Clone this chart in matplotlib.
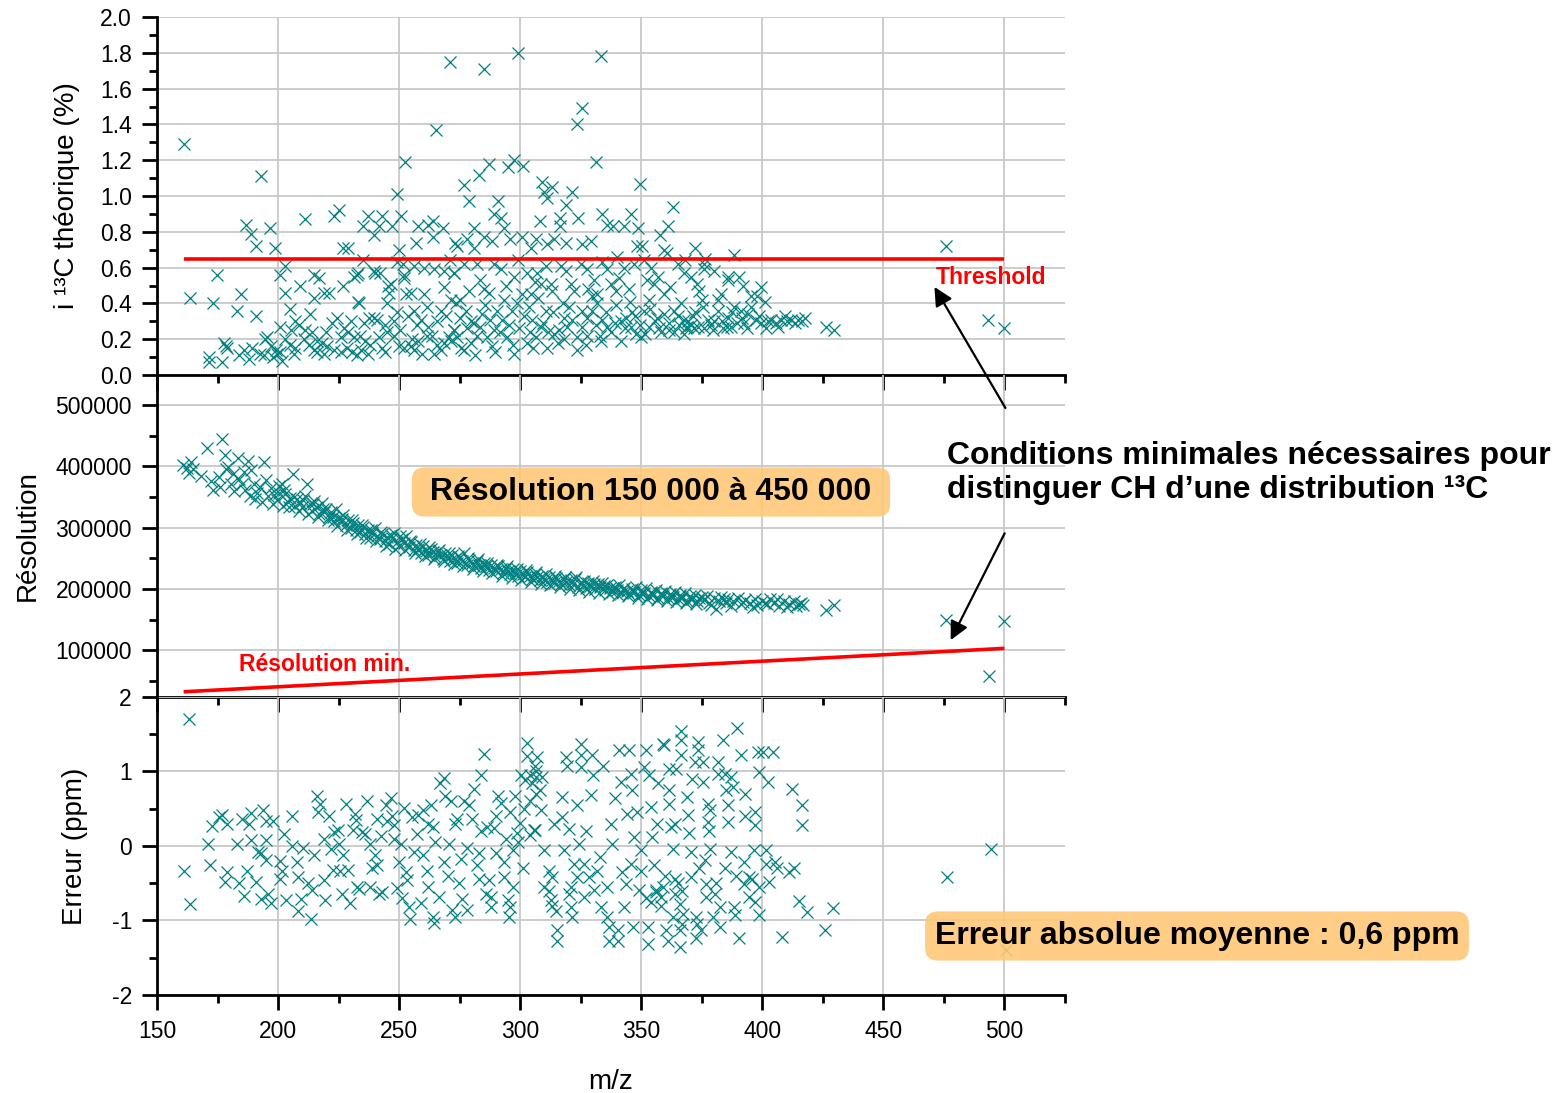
import numpy as np
import matplotlib
matplotlib.use("Agg")
import matplotlib.pyplot as plt
from matplotlib.ticker import MultipleLocator, FormatStrFormatter
from matplotlib.patches import ConnectionPatch

plt.rcParams["font.family"] = ["Liberation Sans", "DejaVu Sans"]
plt.rcParams["axes.unicode_minus"] = False

# ==========================================
# DATA
# ==========================================

# top panel : m/z, i13C theorique (%)
iso_pts = np.array([
    [161, 1.29], [193, 1.11], [163.7, 0.43], [174.8, 0.56], [173, 0.40], [183, 0.36],
    [184.8, 0.45], [191, 0.33], [186.8, 0.84], [189, 0.79], [191, 0.72], [196.8, 0.82],
    [198.8, 0.71], [203, 0.61], [201, 0.56], [203, 0.46], [205, 0.37], [211, 0.87],
    [209, 0.50], [215, 0.56], [217, 0.54], [215, 0.43], [213, 0.34], [219, 0.46],
    [221, 0.46], [223, 0.89], [225, 0.92], [227, 0.71], [229, 0.71], [227, 0.50],
    [231.5, 0.55], [233, 0.57], [233, 0.41], [235, 0.64], [240, 0.57], [242, 0.57],
    [235, 0.83], [237, 0.89], [241.5, 0.83], [239.5, 0.78], [243, 0.89], [247, 0.83],
    [249, 1.01], [250.8, 0.89], [250, 0.70], [251.5, 0.62], [252.6, 1.19], [257, 0.74],
    [258, 0.83], [252, 0.54], [245.5, 0.50], [246, 0.46], [261.8, 0.84], [264, 0.86],
    [268, 0.82], [264, 0.77], [265.3, 1.37], [271, 1.75], [273, 0.74], [271, 0.64],
    [284.9, 1.71], [299.2, 1.80], [333.3, 1.78], [325.4, 1.49], [323.4, 1.40], [331.5, 1.19],
    [287, 1.18], [283.2, 1.12], [295, 1.16], [297.3, 1.20], [301.3, 1.17], [277, 1.06],
    [279, 0.97], [291, 0.97], [289, 0.90], [292, 0.88], [293.5, 0.82], [281, 0.82],
    [309, 1.08], [310, 1.02], [313, 1.05], [311, 0.99], [321.5, 1.02], [319, 0.95],
    [308, 0.86], [316.5, 0.88], [316.5, 0.83], [324, 0.88], [349.4, 1.07], [334, 0.90],
    [345.7, 0.90], [363.3, 0.94], [361, 0.83], [357.6, 0.78], [348.8, 0.82], [343, 0.83],
    [336, 0.84], [338.5, 0.83], [372.2, 0.71], [376.5, 0.65], [388.3, 0.67], [360.8, 0.68],
    [348.4, 0.72], [350.3, 0.72], [385.7, 0.55], [390.5, 0.55], [399.5, 0.49], [401, 0.41],
    [397.7, 0.44], [414.7, 0.31], [417.5, 0.32], [410, 0.30], [426.4, 0.27], [429.5, 0.25],
    [475.8, 0.72], [493.4, 0.31], [499.9, 0.26],
    [171.4, 0.10], [171.4, 0.07], [176.9, 0.07], [177.6, 0.18], [179, 0.15], [178.3, 0.16],
    [183.8, 0.11], [185.9, 0.14], [188, 0.09], [189.3, 0.15], [192.7, 0.12], [194.1, 0.11],
    [194.8, 0.20], [195.5, 0.21], [196.9, 0.16], [199, 0.14], [199.6, 0.12], [201.7, 0.08],
    [201, 0.13], [201, 0.27], [205.2, 0.25], [206.5, 0.12], [207.2, 0.30], [208.6, 0.28],
    [210.7, 0.20], [212.7, 0.17], [214.8, 0.14], [216.2, 0.13], [218.9, 0.12], [220.3, 0.16],
    [222.4, 0.29], [224.5, 0.32], [225.8, 0.21], [227.2, 0.26], [228.6, 0.15], [230.7, 0.13],
    [232.7, 0.11], [234.1, 0.14], [231.4, 0.21], [233.4, 0.40], [235.5, 0.29], [237.6, 0.32],
    [239.6, 0.32], [241, 0.31], [241.7, 0.21], [245.2, 0.24], [245.2, 0.40], [246.5, 0.51],
    [247.9, 0.30], [250, 0.16], [252, 0.15], [254.8, 0.16], [256.2, 0.14], [252.7, 0.45],
    [254.8, 0.46], [260.3, 0.45], [256.2, 0.36], [258.9, 0.31], [261.7, 0.22], [264.5, 0.12],
    [265.8, 0.17], [268.6, 0.18], [270.7, 0.21], [267.2, 0.36], [271.4, 0.42], [268.6, 0.49],
    [272.7, 0.25], [272.7, 0.57], [268.6, 0.58], [264.5, 0.59], [260.3, 0.60], [256.2, 0.61],
    [252, 0.56], [249.3, 0.63], [239.6, 0.58], [232.7, 0.56],
    [218, 0.18], [223, 0.14], [236, 0.19], [243, 0.15], [248, 0.22], [258, 0.19],
    [262, 0.27], [237, 0.12], [229, 0.24], [214, 0.24], [205, 0.17], [198, 0.10],
    [203, 0.20], [207, 0.15], [211, 0.25], [216, 0.19], [220, 0.24], [226, 0.13],
    [230, 0.30], [234, 0.22], [238, 0.17], [244, 0.28], [249, 0.35], [244, 0.13],
    [272.6, 0.25], [275.3, 0.32], [274, 0.21], [278, 0.26], [279.5, 0.18], [282.2, 0.22],
    [284.3, 0.34], [286.4, 0.21], [288.4, 0.16], [290.5, 0.36], [292.6, 0.31], [294.6, 0.21],
    [296.7, 0.36], [298.8, 0.40], [300.9, 0.45], [302.9, 0.18], [305, 0.31], [306.4, 0.21],
    [308.4, 0.27], [310.5, 0.36], [312.6, 0.51], [314, 0.23], [316, 0.25], [318.1, 0.32],
    [320.2, 0.38], [322.2, 0.47], [323.6, 0.21], [325.7, 0.27], [327.7, 0.32], [329.8, 0.36],
    [331.9, 0.40], [334, 0.31], [336, 0.27], [337.4, 0.51], [339.5, 0.47], [341.5, 0.19],
    [343.6, 0.32], [345.7, 0.27], [347.7, 0.23], [349.8, 0.21], [351.2, 0.36], [353.3, 0.42],
    [355.3, 0.51], [356.7, 0.32], [359.5, 0.45], [361.5, 0.25], [363.6, 0.36], [366.3, 0.40],
    [367.7, 0.31], [369.1, 0.27], [370.5, 0.28], [368.4, 0.26], [371.9, 0.26], [373.2, 0.51],
    [375.3, 0.42], [376, 0.26], [378.8, 0.28], [381.5, 0.36], [383.6, 0.26], [385.7, 0.32],
    [388.4, 0.38], [391.2, 0.36], [392.6, 0.29], [395.3, 0.44], [397.4, 0.31], [399.5, 0.29],
    [401.5, 0.26], [403.6, 0.31], [405.7, 0.29], [407.7, 0.31], [411.9, 0.31],
    [277, 0.14], [281, 0.29], [289, 0.25], [297, 0.17], [304, 0.24], [311, 0.15],
    [318, 0.20], [327, 0.17], [333, 0.22], [339, 0.29], [346, 0.35], [353, 0.27],
    [358, 0.24], [365, 0.33], [372, 0.35], [380, 0.30], [387, 0.27], [394, 0.34],
    [250.5, 0.25], [253.5, 0.33], [255.5, 0.20], [257.5, 0.28], [259.5, 0.12], [261.5, 0.38],
    [263.5, 0.22], [265.5, 0.30], [267.5, 0.14], [269.5, 0.33], [271.5, 0.19], [273.5, 0.40],
    [275.5, 0.15], [277.5, 0.36], [279.5, 0.30], [281.5, 0.11], [283.5, 0.27], [285.5, 0.39],
    [287.5, 0.31], [289.5, 0.13], [291.5, 0.24], [293.5, 0.42], [295.5, 0.28], [297.5, 0.12],
    [299.5, 0.26], [301.5, 0.33], [303.5, 0.38], [305.5, 0.15], [307.5, 0.43], [309.5, 0.29],
    [311.5, 0.24], [313.5, 0.35], [315.5, 0.18], [317.5, 0.40], [319.5, 0.27], [321.5, 0.31],
    [323.5, 0.14], [325.5, 0.36], [327.5, 0.22], [329.5, 0.44], [331.5, 0.28], [333.5, 0.19],
    [335.5, 0.35], [337.5, 0.24], [339.5, 0.39], [341.5, 0.30], [343.5, 0.26], [345.5, 0.41],
    [347.5, 0.33], [349.5, 0.28], [351.5, 0.23], [353.5, 0.37], [355.5, 0.30], [357.5, 0.26],
    [359.5, 0.34], [361.5, 0.29], [363.5, 0.24], [365.5, 0.28], [367.5, 0.23], [369.5, 0.30],
    [371.5, 0.33], [373.5, 0.27], [375.5, 0.38], [377.5, 0.31], [379.5, 0.25], [381.5, 0.42],
    [383.5, 0.30], [385.5, 0.27], [387.5, 0.35], [389.5, 0.29], [391.5, 0.32], [393.5, 0.26],
    [395.5, 0.38], [398.5, 0.33], [402.5, 0.30], [406.5, 0.27], [409.5, 0.33], [413.5, 0.29],
    [416.5, 0.30],
    [282, 0.62], [294, 0.50], [299, 0.64], [306, 0.52], [313, 0.47], [319, 0.58],
    [328, 0.48], [334, 0.63], [341, 0.54], [345, 0.48], [351, 0.64], [357, 0.55],
    [362, 0.49], [368, 0.64], [374, 0.47], [380, 0.58], [383, 0.45], [392, 0.50],
    [274, 0.72], [278, 0.76], [280.9, 0.71], [285, 0.77], [288.4, 0.75], [296, 0.76],
    [300.9, 0.77], [304.3, 0.71], [306.4, 0.76], [311.2, 0.73], [314, 0.76], [318.8, 0.74],
    [325.7, 0.73], [329.1, 0.75], [272.6, 0.57], [276.7, 0.62], [278.8, 0.47], [283.6, 0.53],
    [285, 0.48], [287, 0.46], [289.1, 0.62], [291.9, 0.59], [297.4, 0.55], [302.9, 0.57],
    [307, 0.57], [310.5, 0.61], [316.7, 0.61], [320.8, 0.51], [325, 0.62], [327.7, 0.59],
    [330.5, 0.53], [336, 0.59], [340.1, 0.66], [342.9, 0.60], [347, 0.62], [353.9, 0.60],
    [359.5, 0.70], [365, 0.62], [367.7, 0.57], [376, 0.59], [370.5, 0.55], [385.7, 0.53],
    [376, 0.62], [275.3, 0.42], [304.3, 0.45], [308.4, 0.51], [331.9, 0.45], [352.5, 0.53],
])

# middle panel : m/z, resolution
res_pts = np.array([
    [160.8, 402000], [162.5, 398000], [163.2, 389000], [164.0, 407000], [170.5, 430000],
    [172.5, 376000], [173.0, 362000], [175.5, 382000], [176.0, 366000], [177.0, 444000],
    [178.0, 419000], [178.5, 396000], [179.5, 399000], [180.5, 371000], [181.5, 388000],
    [182.0, 360000], [183.5, 414000], [184.0, 380000], [185.0, 372000], [186.0, 391000],
    [186.5, 361000], [187.5, 409000], [188.5, 352000], [189.0, 394000], [190.0, 372000],
    [190.5, 347000], [191.5, 356000], [192.5, 366000], [193.5, 342000], [194.0, 407000],
    [195.0, 378000], [196.0, 352000], [197.0, 364000], [198.0, 338000], [198.5, 353000],
    [199.5, 345000], [200.5, 368000], [201.5, 372000], [202.0, 336000], [203.0, 355000],
    [204.0, 342000], [205.0, 349000], [206.0, 388000], [207.0, 336000], [208.0, 347000],
    [209.0, 341000], [210.0, 333000], [211.0, 352000], [212.0, 371000], [213.0, 339000],
    [214.0, 328000], [215.0, 344000], [216.0, 334000], [217.0, 322000], [218.0, 340000],
    [219.0, 326000], [220.0, 331000], [221.0, 318000], [222.0, 325000], [223.0, 311000],
    [224.0, 330000], [225.0, 316000], [226.0, 309000], [227.0, 321000], [228.0, 305000],
    [229.0, 313000], [230.0, 300000], [231.0, 308000], [232.0, 297000], [233.0, 304000],
    [234.0, 293000], [235.0, 301000], [236.0, 289000], [237.0, 296000], [238.0, 284000],
    [239.0, 292000], [240.0, 300000], [241.0, 287000], [242.0, 281000], [243.0, 290000],
    [244.0, 278000], [245.0, 285000], [246.0, 274000], [247.0, 283000], [248.0, 291000],
    [249.0, 277000], [250.0, 270000], [251.0, 281000], [252.0, 275000], [253.0, 287000],
    [254.0, 268000], [255.0, 276000], [256.0, 263000], [257.0, 272000], [258.0, 266000],
    [259.0, 259000], [260.0, 270000], [261.0, 262000], [262.0, 256000], [263.0, 266000],
    [264.0, 260000], [265.0, 253000], [266.0, 262000], [267.0, 255000], [268.0, 249000],
    [269.0, 259000], [270.0, 252000], [271.0, 246000], [272.0, 255000], [273.0, 249000],
    [274.0, 243000], [275.0, 252000], [276.0, 246000], [277.0, 258000], [278.0, 240000],
    [279.0, 248000], [280.0, 243000], [281.0, 237000], [282.0, 246000], [283.0, 240000],
    [284.0, 234000], [285.0, 243000], [286.0, 237000], [287.0, 231000], [288.0, 240000],
    [289.0, 235000], [290.0, 229000], [291.0, 238000], [292.0, 232000], [293.0, 227000],
    [294.0, 235000], [295.0, 229000], [296.0, 224000], [297.0, 232000], [298.0, 226000],
    [299.0, 221000], [300.0, 230000], [301.0, 225000], [302.0, 219000], [303.0, 228000],
    [304.0, 222000], [305.0, 217000], [306.0, 225000], [307.0, 220000], [308.0, 214000],
    [309.0, 222000], [310.0, 217000], [311.0, 211000], [312.0, 220000], [313.0, 215000],
    [314.0, 210000], [315.0, 218000], [316.0, 213000], [317.0, 208000], [318.0, 216000],
    [319.0, 211000], [320.0, 206000], [321.0, 214000], [322.0, 209000], [323.0, 219000],
    [324.0, 204000], [325.0, 212000], [326.0, 207000], [327.0, 202000], [328.0, 210000],
    [329.0, 205000], [330.0, 213000], [331.0, 200000], [332.0, 208000], [333.0, 203000],
    [334.0, 210000], [335.0, 198000], [336.0, 206000], [337.0, 201000], [338.0, 196000],
    [339.0, 204000], [340.0, 199000], [341.0, 207000], [342.0, 194000], [343.0, 202000],
    [344.0, 197000], [345.0, 192000], [346.0, 200000], [347.0, 195000], [348.0, 203000],
    [349.0, 190000], [350.0, 198000], [351.0, 193000], [352.0, 201000], [353.0, 188000],
    [354.0, 196000], [355.0, 191000], [356.0, 199000], [357.0, 186000], [358.0, 194000],
    [359.0, 189000], [360.0, 197000], [361.0, 185000], [362.0, 192000], [363.0, 187000],
    [364.0, 195000], [365.0, 183000], [366.0, 190000], [367.0, 185000], [368.0, 193000],
    [369.0, 181000], [370.0, 188000], [371.0, 183000], [372.0, 191000], [373.0, 180000],
    [374.0, 186000], [376.0, 182000], [377.0, 189000], [378.0, 178000], [380.0, 185000],
    [381.0, 167000], [382.0, 181000], [383.0, 187000], [385.0, 177000], [386.0, 184000],
    [388.0, 180000], [390.0, 186000], [391.0, 176000], [393.0, 182000], [395.0, 178000],
    [397.0, 184000], [398.0, 174000], [400.0, 181000], [402.0, 176000], [403.0, 183000],
    [405.0, 178000], [407.0, 173000], [409.0, 180000], [411.0, 175000], [413.0, 181000],
    [414.0, 172000], [416.0, 178000], [417.0, 174000], [426.4, 166000], [429.5, 174000],
    [475.7, 149000], [493.5, 58600], [499.8, 148000],
    [165.0, 395000], [168.0, 384000], [200.5, 356000], [202.5, 362000], [204.5, 333000],
    [206.5, 350000], [208.5, 327000], [210.5, 345000], [212.5, 322000], [214.5, 338000],
    [216.5, 317000], [218.5, 330000], [220.5, 312000], [222.5, 318000], [224.5, 303000],
    [226.5, 314000], [228.5, 296000], [230.5, 312000], [232.5, 289000], [234.5, 305000],
    [236.5, 283000], [238.5, 297000], [240.5, 278000], [242.5, 293000], [244.5, 271000],
    [246.5, 288000], [248.5, 266000], [250.5, 286000], [252.5, 263000], [254.5, 279000],
    [256.5, 258000], [258.5, 274000], [260.5, 254000], [262.5, 268000], [264.5, 249000],
    [266.5, 264000], [268.5, 245000], [270.5, 259000], [272.5, 241000], [274.5, 254000],
    [276.5, 237000], [278.5, 251000], [280.5, 233000], [282.5, 249000], [284.5, 229000],
    [286.5, 243000], [288.5, 226000], [290.5, 240000], [292.5, 222000], [294.5, 238000],
    [296.5, 218000], [298.5, 233000], [300.5, 215000], [302.5, 231000], [304.5, 212000],
    [306.5, 228000], [308.5, 209000], [310.5, 224000], [312.5, 206000], [314.5, 221000],
    [316.5, 203000], [318.5, 219000], [320.5, 200000], [322.5, 216000], [324.5, 198000],
    [326.5, 213000], [328.5, 196000], [330.5, 208000], [332.5, 194000], [334.5, 205000],
    [336.5, 192000], [338.5, 202000], [340.5, 190000], [342.5, 200000], [344.5, 188000],
    [346.5, 197000], [348.5, 186000], [350.5, 194000], [352.5, 184000], [354.5, 193000],
    [356.5, 182000], [358.5, 190000], [360.5, 180000], [362.5, 188000], [364.5, 179000],
    [366.5, 186000], [368.5, 177000], [370.5, 184000], [372.5, 176000], [375.0, 187000],
    [379.0, 174000], [384.0, 183000], [387.0, 172000], [392.0, 179000], [396.0, 171000],
    [401.0, 178000], [406.0, 183000], [410.0, 170000], [415.0, 176000],
])

# bottom panel : m/z, erreur (ppm)
err_pts = np.array([
    [163.1, 1.70], [161, -0.34], [163.6, -0.78], [171, 0.03], [171.8, -0.26], [172.8, 0.27],
    [175.5, 0.39], [177, 0.42], [179, 0.30], [178, -0.48], [179, -0.35], [183, 0.03],
    [184, -0.50], [186, -0.67], [185, 0.36], [188, 0.30], [189, 0.44], [187, -0.34],
    [189, 0.08], [191, -0.49], [193.8, 0.48], [195, 0.33], [195, 0.08], [198, 0.34],
    [191.6, -0.08], [193, -0.10], [195, -0.19], [193, -0.71], [196, -0.65], [197, -0.77],
    [200.8, -0.20], [201.5, -0.33], [200.8, -0.44], [202.6, 0.16], [203.4, -0.72], [205.6, 0.40],
    [205.6, 0.00], [207.7, -0.22], [208.4, -0.42], [210.5, -0.03], [208.4, -0.87], [209.5, -0.71],
    [213.6, -0.98], [212.5, -0.50], [213.9, -0.59], [215, -0.12], [216, 0.67], [217.5, 0.57],
    [216.4, 0.45], [219, -0.46], [219.5, -0.73], [221, 0.40], [219, 0.09], [222, -0.04],
    [222.6, -0.32], [224.8, 0.21], [223, 0.19], [225, 0.03], [225.5, -0.34], [226.5, -0.65],
    [227, -0.12], [228, 0.57], [229, -0.32], [229.7, -0.77], [231, 0.21], [231.6, 0.43],
    [232.6, -0.55], [233.3, -0.58], [234.7, 0.19], [236.7, 0.60], [236, 0.16], [238, 0.03],
    [240, -0.12], [241, -0.25], [241.7, -0.65], [241, 0.36], [242.4, 0.13], [244.5, 0.55],
    [245, 0.33], [246.5, 0.64], [247.9, 0.28], [249, -0.56], [250.7, 0.03], [250, -0.22],
    [252, 0.51], [252.7, -0.35], [253.4, -0.46], [254, -0.82], [254.4, -0.98], [255.5, 0.39],
    [256, -0.08], [257.3, 0.16], [259, -0.77], [260, 0.48], [260, -0.12], [261.7, -0.33],
    [263, 0.55], [263.8, 0.26], [263.8, -0.95], [264.5, -1.04], [266.6, -0.68], [267, 0.84],
    [268.6, 0.91], [269, 0.67], [268.6, -0.22], [270.7, 0.03], [271.4, 0.60], [272, -0.86],
    [273, -0.95], [274, 0.36], [274.8, -0.50], [275.5, -0.17], [276, -0.71], [277, 0.60],
    [278, -0.03], [278, -0.86], [280, 0.36], [281, 0.77], [282, -0.25], [283, -0.44],
    [284, 0.95], [285, 1.24], [286.5, 0.26], [287, -0.46], [288, -0.68], [288, -0.82],
    [289, 0.24], [290, -0.10], [291, 0.67], [292, 0.58], [293.5, -0.22], [293.5, -0.42],
    [295, -0.73], [295.5, -0.95], [296, -0.82], [297, -0.06], [298, 0.67], [298.8, 0.18],
    [300, 0.31], [301.7, 0.49], [302, 0.89], [303, 1.38], [303, 1.21], [305, 0.84],
    [306, 0.22], [306.6, 1.01], [247, 0.40], [238, -0.55], [262, 0.30], [284, 0.20],
    [299, 0.05], [296, 0.45], [300.5, 0.95], [304, 0.60],
    [307, 1.19], [306.4, 0.93], [306.4, 0.70], [308.4, 0.48], [305.7, 0.21], [309.8, -0.06],
    [311.9, -0.33], [313.3, -0.42], [312.6, -0.73], [314.6, -0.87], [315.3, -1.13], [315.3, -1.27],
    [318.8, 1.19], [319.2, 1.08], [325, 1.37], [325.3, 1.22], [325, 1.06], [329.8, 1.22],
    [334.4, 1.08], [317.4, 0.66], [317.4, 0.39], [320.2, 0.23], [323.6, 0.55], [329.2, 0.68],
    [324.3, 0.03], [322.2, -0.24], [326.4, -0.24], [323.6, -0.42], [328.4, -0.42], [331.9, -0.33],
    [330.5, -0.59], [320.8, -0.82], [321.5, -0.95], [326.4, -0.68], [333.3, -0.82], [336.7, -1.09],
    [336.7, -1.27], [340.4, -1.27], [340.4, -1.13], [337.4, 0.30], [338.1, 0.03], [340.8, 1.29],
    [345, 1.29], [345.7, 0.97], [341.5, 0.86], [344.3, 0.43], [348.4, 0.45], [347, 0.12],
    [345.7, -0.24], [343.6, -0.51], [349.8, -0.33], [349.1, -0.59], [346.4, -1.09], [342.9, -0.82],
    [351.9, 1.29], [351.2, 1.06], [353.3, 0.95], [353.9, 0.52], [356.7, 0.30], [354.6, 0.12],
    [355.3, -0.26], [356, -0.59], [352.6, -1.09], [352.6, -1.31], [358.8, 1.37], [359.5, 1.35],
    [361.6, 1.04], [364.4, 1.04], [361.6, 0.75], [361.6, 0.57], [362.4, 0.26], [363.1, -0.04],
    [358.8, -0.55], [358.3, -0.80], [363.8, -0.44], [363.8, -0.64], [365.9, -0.78], [367.3, -0.91],
    [365.9, -1.13], [365.9, -1.36], [360.2, -1.13], [360.9, -1.27], [366.6, 1.55], [366.6, 1.42],
    [366.6, 1.22], [368.7, 0.66], [369.3, 0.41], [369.6, 0.17], [370.4, -0.08], [370.7, -0.42],
    [372.1, 1.13], [373.4, 1.40], [373.4, 1.29], [375.5, 1.13], [375.5, 0.86], [377.6, 0.57],
    [378.3, 0.48], [377.6, 0.32], [376.2, -0.19], [378.3, -0.04], [376.9, -0.51], [376.9, -0.68],
    [380.3, -0.64], [382.4, -0.82], [379.6, -0.95], [372.8, -0.95], [374.8, -1.13], [372.8, -1.24],
    [381.7, 1.13], [383.8, 1.42], [381.7, 0.97], [384.5, 0.97], [387.2, 0.93], [387.9, 0.79],
    [385.9, 0.55], [385.9, 0.32], [386.9, -0.08], [384.8, -0.30], [382.4, -1.09], [389.5, 1.59],
    [391.3, 1.22], [393, 0.70], [392.3, -0.21], [394.4, -0.42], [392.3, -0.51], [394.4, -0.68],
    [388.2, -0.82], [388.8, -0.93], [390.2, -1.24], [396.4, -0.06], [397.1, 0.46], [397.1, 0.28],
    [395.7, -0.44], [398.4, 1.26], [400.4, 1.26], [404.6, 1.26], [398.8, 0.99], [402.5, 0.86],
    [401.5, -0.06], [401.5, -0.24], [402.9, -0.48], [398.8, -0.55], [398.8, -0.93], [405.3, -0.21],
    [406, -0.30], [408.1, -1.22], [412.3, 0.77], [413, -0.30], [410.9, -0.35], [416.4, 0.55],
    [416.4, 0.28], [415, -0.74], [418.5, -0.89], [426, -1.13], [429, -0.83],
    [232, 0.35], [239, -0.30], [243, -0.62], [248, 0.10], [251, -0.70], [258, 0.42],
    [262, -0.55], [265, 0.05], [270, -0.40], [273, 0.30], [279, 0.55], [283, -0.10],
    [286, -0.65], [290, 0.40], [294, 0.10], [297, -0.55], [301, -0.30], [304, 0.15],
    [308, 0.75], [310, -0.55], [314, 0.30], [318, -0.05], [321, -0.55], [327, 0.20],
    [330, 0.95], [333, -0.15], [336, -0.55], [339, 0.65], [342, -0.35], [346, 0.75],
    [350, -0.05], [354, -0.75], [357, 0.85], [360, -0.40], [364, 0.30], [367, -0.60],
    [371, 0.90], [374, -0.30], [378, 0.20], [381, -0.50], [385, 0.75], [389, -0.40],
    [393, 0.40], [397, -0.75], [306, 1.08], [304, 0.95], [309, 0.92], [312, -0.60],
    [313, -0.80], [356, -0.62], [358, -0.68], [352, -0.70], [363, -0.95], [367, -1.05],
    [373, -1.05], [365, -0.50], [336, -0.95], [320, -0.65],
    [476.2, -0.41], [494.6, -0.04], [500.7, -1.39],
])

iso_mz, iso_val = iso_pts.T
res_mz, res_val = res_pts.T
err_mz, err_val = err_pts.T

# red reference lines
thr_mz = [161, 500]
thr_val = [0.65, 0.65]
resmin_mz = [161, 500]
resmin_val = [32500, 103300]

TEAL = "#008080"
RED = "#ff0000"
BOX = "#ffc878"
GRID = "#c8c8c8"
MS = 8.5
MEW = 0.9

# ==========================================
# FIGURE
# ==========================================

fig = plt.figure(figsize=(15.59, 10.93), dpi=100)

ax1 = fig.add_axes([0.1007, 0.6569, 0.5824, 0.3275])
ax2 = fig.add_axes([0.1007, 0.3623, 0.5824, 0.2946])
ax3 = fig.add_axes([0.1007, 0.0897, 0.5824, 0.2726])

for ax in (ax1, ax2, ax3):
    ax.set_facecolor("none")
    ax.set_xlim(150, 525)
    ax.xaxis.set_major_locator(MultipleLocator(50))
    ax.xaxis.set_minor_locator(MultipleLocator(25))
    ax.grid(True, which="major", color=GRID, linewidth=1.3)
    ax.set_axisbelow(True)
    ax.spines["top"].set_visible(False)
    ax.spines["right"].set_visible(False)
    ax.spines["left"].set_linewidth(2)
    ax.spines["bottom"].set_linewidth(2)
    ax.tick_params(which="major", direction="out", length=11, width=2,
                   labelsize=16.5, pad=7)
    ax.tick_params(which="minor", direction="out", length=6, width=2)

ax1.tick_params(axis="x", labelbottom=False)
ax2.tick_params(axis="x", labelbottom=False)

# top panel
ax1.plot(iso_mz, iso_val, "x", color=TEAL, markersize=MS, markeredgewidth=MEW)
ax1.plot(thr_mz, thr_val, color=RED, linewidth=2.6, solid_capstyle="butt")
ax1.set_ylim(0, 2.0)
ax1.yaxis.set_major_locator(MultipleLocator(0.2))
ax1.yaxis.set_minor_locator(MultipleLocator(0.1))
ax1.yaxis.set_major_formatter(FormatStrFormatter("%.1f"))
ax1.set_ylabel("i ¹³C théorique (%)", fontsize=20)
ax1.yaxis.set_label_coords(-0.085, 0.5)
ax1.text(471.5, 0.547, "Threshold", color=RED, fontsize=16.5,
         fontweight="bold", ha="left", va="center")

# middle panel
ax2.plot(res_mz, res_val, "x", color=TEAL, markersize=MS, markeredgewidth=MEW)
ax2.plot(resmin_mz, resmin_val, color=RED, linewidth=2.6, solid_capstyle="butt")
ax2.set_ylim(24000, 549000)
ax2.set_yticks([100000, 200000, 300000, 400000, 500000])
ax2.yaxis.set_minor_locator(MultipleLocator(50000))
ax2.yaxis.set_major_formatter(FormatStrFormatter("%d"))
ax2.set_ylabel("Résolution", fontsize=20)
ax2.yaxis.set_label_coords(-0.128, 0.5)
ax2.text(183.9, 77650, "Résolution min.", color=RED, fontsize=16.5,
         fontweight="bold", ha="left", va="center")

# bottom panel
ax3.plot(err_mz, err_val, "x", color=TEAL, markersize=MS, markeredgewidth=MEW)
ax3.set_ylim(-2, 2)
ax3.set_yticks([-2, -1, 0, 1, 2])
ax3.yaxis.set_minor_locator(MultipleLocator(0.5))
ax3.set_ylabel("Erreur (ppm)", fontsize=20)
ax3.yaxis.set_label_coords(-0.076, 0.5)
ax3.set_xlabel("m/z", fontsize=20, labelpad=19)

# ==========================================
# ANNOTATIONS
# ==========================================

arrow1 = ConnectionPatch(xyA=(500.4, 495300), coordsA=ax2.transData,
                         xyB=(471.1, 0.492), coordsB=ax1.transData,
                         arrowstyle="-|>", mutation_scale=28,
                         linewidth=1.6, color="black")
arrow2 = ConnectionPatch(xyA=(500.1, 290900), coordsA=ax2.transData,
                         xyB=(477.8, 116800), coordsB=ax2.transData,
                         arrowstyle="-|>", mutation_scale=28,
                         linewidth=1.6, color="black")
fig.add_artist(arrow1)
fig.add_artist(arrow2)

fig.text(947 / 1559, 1 - 473 / 1093,
         "Conditions minimales nécessaires pour\ndistinguer CH d’une distribution ¹³C",
         fontsize=23, fontweight="bold", ha="left", va="center", linespacing=1.15)

fig.text(651 / 1559, 1 - 492 / 1093, " Résolution 150 000 à 450 000 ",
         fontsize=23, fontweight="bold", ha="center", va="center",
         bbox=dict(boxstyle="round,pad=0.3,rounding_size=0.4",
                   facecolor=BOX, edgecolor="none", alpha=0.9))

fig.text(1197 / 1559, 1 - 936 / 1093, "Erreur absolue moyenne : 0,6 ppm",
         fontsize=23, fontweight="bold", ha="center", va="center",
         bbox=dict(boxstyle="round,pad=0.3,rounding_size=0.4",
                   facecolor=BOX, edgecolor="none", alpha=0.9))

fig.savefig("out.png", dpi=100, facecolor="white")
